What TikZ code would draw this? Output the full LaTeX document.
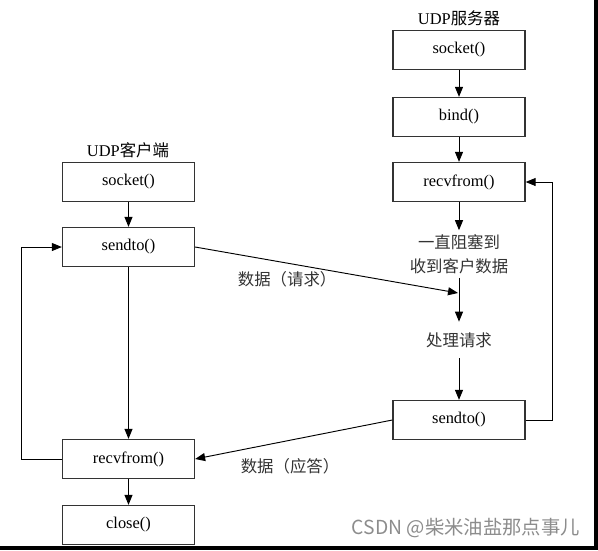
\documentclass[tikz,border=0pt]{standalone}
\usepackage{fontspec}
\setmainfont{Liberation Serif}
\newfontfamily\cjk{Noto Sans CJK SC}
\usetikzlibrary{arrows.meta}

\begin{document}
\begin{tikzpicture}[x=0.03cm, y=-0.03cm, >={Triangle[length=0.3cm, width=0.24cm]},
    every node/.style={font=\fontsize{14}{19}\selectfont},
    func/.style={draw, rectangle, line width=1.1pt, draw=black!80, minimum width=3.96cm, minimum height=1.17cm, inner sep=0pt},
    flow/.style={->, line width=0.8pt},
    cn/.style={font=\cjk\fontsize{14}{20.5}\selectfont, text=black!80}]
    \useasboundingbox (0,0) rectangle (598,550);
    % frame edges
    \fill (594,0) rectangle (598,550);
    \fill (0,546) rectangle (598,550);

    % Titles
    \node at (459,18) (srvtitle) {UDP{\cjk 服务器}};
    \node at (128,150) (clititle) {UDP{\cjk 客户端}};

    % Server boxes
    \node[func] at (459,50) (ssock) {socket()};
    \node[func] at (459,117) (sbind) {bind()};
    \node[func] at (459,182) (srecv) {recvfrom()};
    \node[cn, align=center] at (459,254) (wait) {一直阻塞到\\收到客户数据};
    \node[cn, inner sep=9pt] at (459,340) (proc) {处理请求};
    \node[func] at (459,420) (ssend) {sendto()};

    % Client boxes
    \node[func] at (128.5,182) (csock) {socket()};
    \node[func] at (128.5,247) (csend) {sendto()};
    \node[func] at (128.5,459) (crecv) {recvfrom()};
    \node[func] at (128.5,525) (cclose) {close()};

    \coordinate (reqin) at (458,293);

    % Arrows
    \draw[flow] (ssock) -- (sbind);
    \draw[flow] (sbind) -- (srecv);
    \draw[flow] (srecv) -- (wait);
    \draw[flow] (wait) -- (proc);
    \draw[flow] (proc) -- (ssend);
    \draw[flow] (ssend.east) -- ++(27,0) |- (srecv.east);

    \draw[flow] (csock) -- (csend);
    \draw[flow] (csend) -- (crecv);
    \draw[flow] (crecv) -- (cclose);
    \draw[flow] (crecv.west) -- ++(-40,0) |- (csend.west);

    \draw[flow] (csend.east) -- (reqin) node[cn, pos=0.35, below=3pt] (reqlbl) {数据（请求）};
    \draw[flow] (ssend.west) -- (crecv.east);
    \node[cn] at (290,466) (replbl) {数据（应答）};

    % watermark
    \node[anchor=east, font=\cjk\fontsize{16.5}{18}\selectfont, text=black!45] at (584,528) (mark) {CSDN @柴米油盐那点事儿};
\end{tikzpicture}
\end{document}
